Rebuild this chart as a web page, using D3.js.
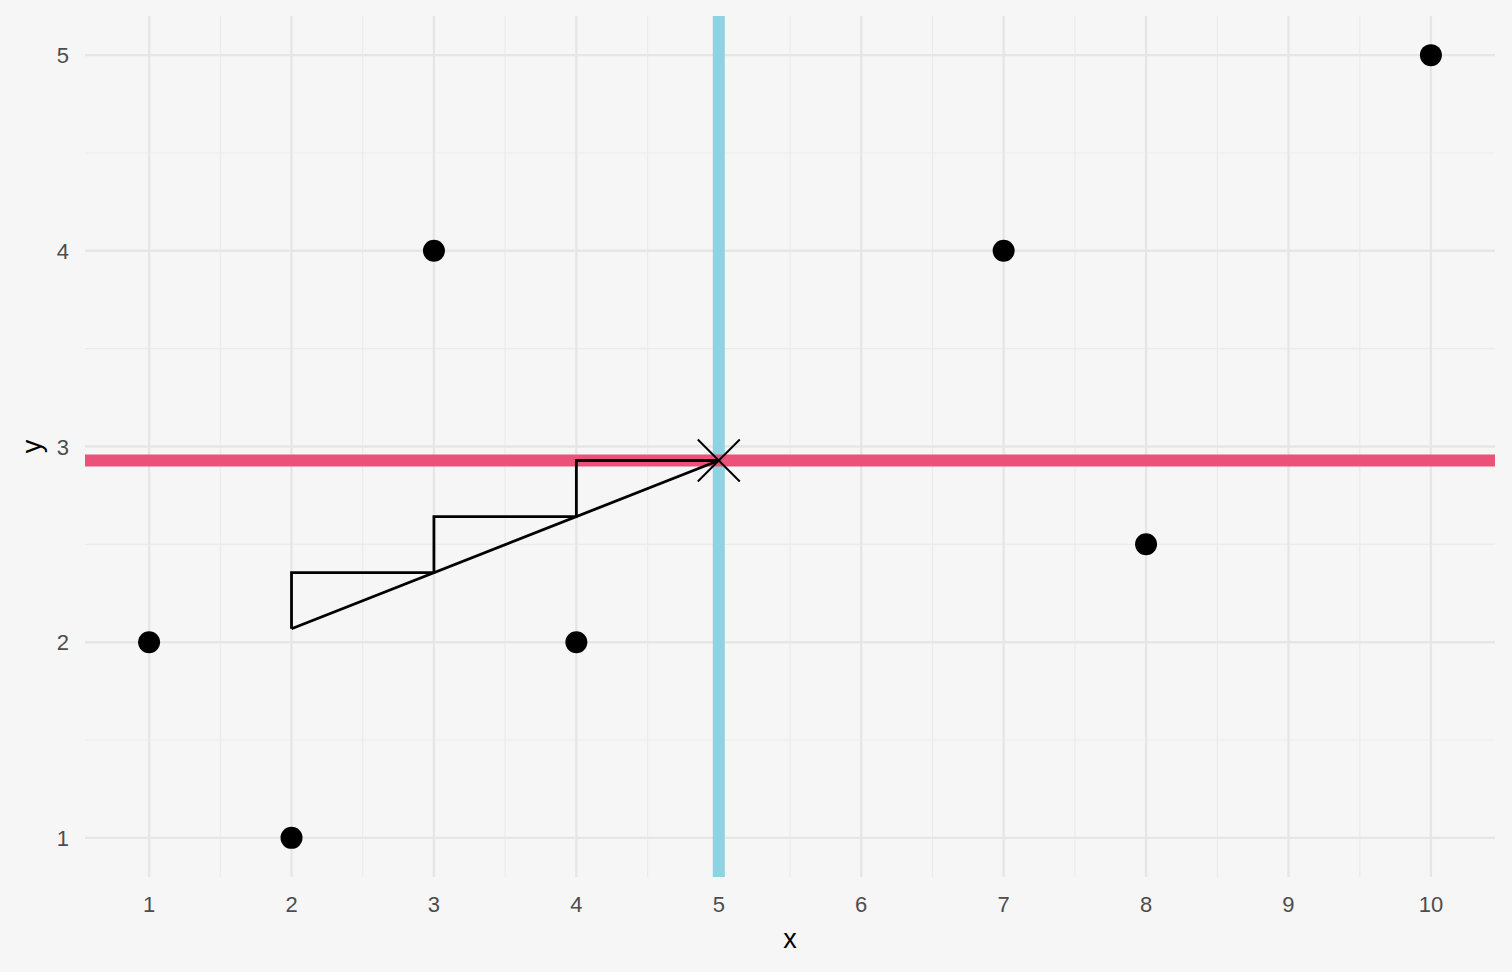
<!DOCTYPE html>
<html>
<head>
<meta charset="utf-8">
<script src="https://cdn.jsdelivr.net/npm/d3@7"></script>
<style>
html,body{margin:0;padding:0;background:#f6f6f6;}
svg{display:block;font-family:"Liberation Sans",Arial,sans-serif;}
</style>
</head>
<body>
<svg id="chart" width="1512" height="972"></svg>
<script>
const xs = [1, 2, 3, 4, 7, 8, 10];
const ys = [2, 1, 4, 2, 4, 2.5, 5];
const xTicks = [1, 2, 3, 4, 5, 6, 7, 8, 9, 10];
const yTicks = [1, 2, 3, 4, 5];
const xMinor = [1.5, 2.5, 3.5, 4.5, 5.5, 6.5, 7.5, 8.5, 9.5];
const yMinor = [1.5, 2.5, 3.5, 4.5];

const W = 1512, H = 972;
const margin = {left: 85, right: 17, top: 16, bottom: 95};
const svg = d3.select("#chart");
svg.append("rect").attr("width", W).attr("height", H).attr("fill", "#f6f6f6");

const x = d3.scaleLinear().domain([0.55, 10.45]).range([margin.left, W - margin.right]);
const y = d3.scaleLinear().domain([0.8, 5.2]).range([H - margin.bottom, margin.top]);

const n = xs.length;
const mx = d3.mean(xs), my = d3.mean(ys);
let sxy = 0, sxx = 0;
for (let i = 0; i < n; i++) { sxy += (xs[i]-mx)*(ys[i]-my); sxx += (xs[i]-mx)**2; }
const slope = sxy / sxx;
const line = v => my + slope * (v - mx);

const g = svg.append("g");
// minor grid
g.selectAll(".xmin").data(xMinor).join("line")
  .attr("x1", d => x(d)).attr("x2", d => x(d)).attr("y1", y.range()[1]).attr("y2", y.range()[0])
  .attr("stroke", "#ebebeb").attr("stroke-width", 1.2);
g.selectAll(".ymin").data(yMinor).join("line")
  .attr("y1", d => y(d)).attr("y2", d => y(d)).attr("x1", x.range()[0]).attr("x2", x.range()[1])
  .attr("stroke", "#ebebeb").attr("stroke-width", 1.2);
// major grid
g.selectAll(".xmaj").data(xTicks).join("line")
  .attr("x1", d => x(d)).attr("x2", d => x(d)).attr("y1", y.range()[1]).attr("y2", y.range()[0])
  .attr("stroke", "#e6e6e6").attr("stroke-width", 2.4);
g.selectAll(".ymaj").data(yTicks).join("line")
  .attr("y1", d => y(d)).attr("y2", d => y(d)).attr("x1", x.range()[0]).attr("x2", x.range()[1])
  .attr("stroke", "#e6e6e6").attr("stroke-width", 2.4);

// mean lines
g.append("line").attr("x1", x(mx)).attr("x2", x(mx)).attr("y1", y.range()[1]).attr("y2", y.range()[0])
  .attr("stroke", "#8dd3e1").attr("stroke-width", 12);
g.append("line").attr("y1", y(my)).attr("y2", y(my)).attr("x1", x.range()[0]).attr("x2", x.range()[1])
  .attr("stroke", "#eb5279").attr("stroke-width", 12);

// staircase + regression segment
const steps = [2, 3, 4, 5];
const pts = [[steps[0], line(steps[0])]];
for (let i = 0; i < steps.length - 1; i++) {
  pts.push([steps[i], line(steps[i + 1])]);
  pts.push([steps[i + 1], line(steps[i + 1])]);
}
pts.push([steps[0], line(steps[0])]);
g.append("path")
  .attr("d", d3.line().x(d => x(d[0])).y(d => y(d[1]))(pts))
  .attr("fill", "none").attr("stroke", "#000").attr("stroke-width", 2.8).attr("stroke-linejoin", "miter");

// points
g.selectAll(".pt").data(xs.map((v, i) => [v, ys[i]])).join("circle")
  .attr("cx", d => x(d[0])).attr("cy", d => y(d[1])).attr("r", 11).attr("fill", "#000");

// cross at mean
const cs = 21;
const cx = x(mx), cy = y(my);
g.append("path").attr("d", `M${cx-cs},${cy-cs}L${cx+cs},${cy+cs}M${cx-cs},${cy+cs}L${cx+cs},${cy-cs}`)
  .attr("stroke", "#000").attr("stroke-width", 2).attr("fill", "none");

// axes labels
svg.selectAll(".xt").data(xTicks).join("text")
  .attr("x", d => x(d)).attr("y", 912).attr("text-anchor", "middle")
  .attr("font-size", 22).attr("fill", "#4d4d4d").text(d => d);
svg.selectAll(".yt").data(yTicks).join("text")
  .attr("x", 69).attr("y", d => y(d) + 8).attr("text-anchor", "end")
  .attr("font-size", 22).attr("fill", "#4d4d4d").text(d => d);

svg.append("text").attr("x", (x.range()[0] + x.range()[1]) / 2).attr("y", 948)
  .attr("text-anchor", "middle").attr("font-size", 27).attr("fill", "#000").text("x");
svg.append("text").attr("transform", `translate(41,${(y.range()[0] + y.range()[1]) / 2}) rotate(-90)`)
  .attr("text-anchor", "middle").attr("font-size", 27).attr("fill", "#000").text("y");
</script>
</body>
</html>
